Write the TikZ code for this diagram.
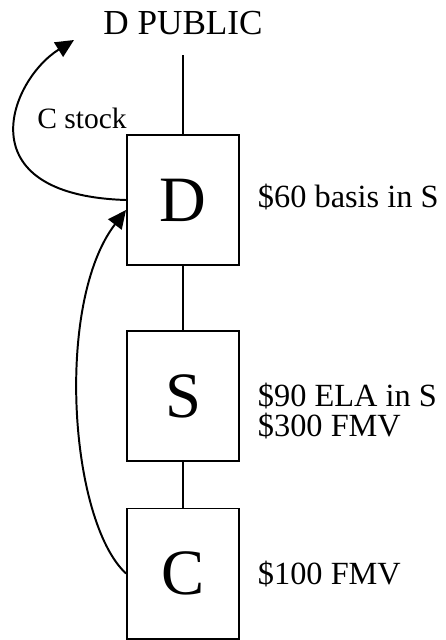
\documentclass[tikz,border=0pt]{standalone}
\usepackage{fontspec}
\setmainfont{Liberation Serif}
\usetikzlibrary{arrows.meta}

\begin{document}
\begin{tikzpicture}[x=0.025cm, y=-0.025cm, line width=1.4pt,
    entity/.style={draw, minimum width=2.8cm, minimum height=3.25cm, inner sep=0pt,
      font=\fontsize{46}{50}\selectfont},
    note/.style={anchor=west, align=left, inner sep=0pt, font=\fontsize{23}{22}\selectfont},
    flow/.style={-{Triangle[length=13pt,width=12pt]}}]
  \useasboundingbox (0,0) rectangle (446,640);
  % chain of corporations
  \node[font=\fontsize{25}{28}\selectfont] (pub) at (183,23) {D PUBLIC};
  \node[entity] (D) at (183,200) {D};
  \node[entity] (S) at (183,396) {S};
  \node[entity] (C) at (183,573.5) {C};
  \coordinate (top) at (183,55);
  \draw (top) -- (D.north);
  \draw (D) -- (S) -- (C);
  % values held
  \node[note] (Dval) at (257,197) {\$60 basis in S};
  \node[note] (Sval) at (257,411) {\$90 ELA in S\\\$300 FMV};
  \node[note] (Cval) at (257,574) {\$100 FMV};
  % C stock goes out to the public
  \coordinate (out) at (74,40);
  \draw[flow] (D.west) .. controls +(-162,-5) and +(-64,40) .. (out);
  \node[font=\fontsize{21}{24}\selectfont] (cstock) at (82,118) {C stock};
  % C comes up to D
  \draw[flow] (C.west) .. controls +(-57,-53) and +(-71,92) .. (D.190);
\end{tikzpicture}
\end{document}
